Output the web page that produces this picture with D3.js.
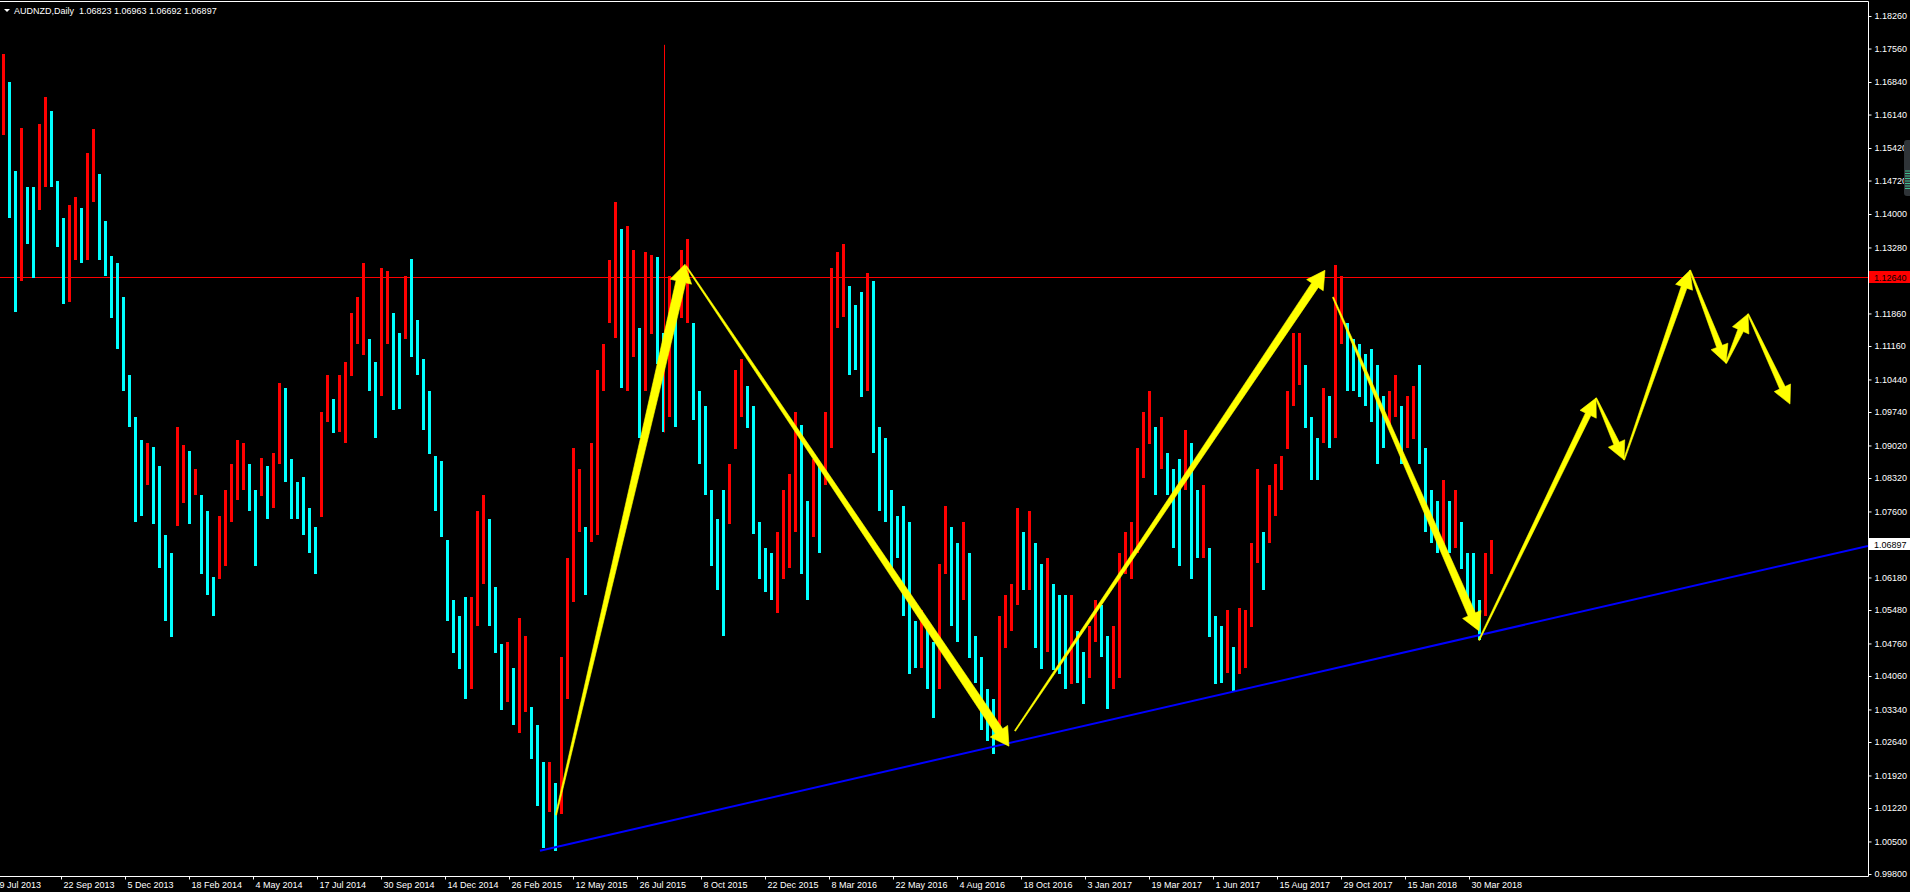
<!DOCTYPE html>
<html><head><meta charset="utf-8">
<script src="https://cdn.jsdelivr.net/npm/d3@7"></script>
<style>
html,body{margin:0;padding:0;background:#000;overflow:hidden}
text{font-family:"Liberation Sans",Arial,sans-serif;font-size:9px;fill:#fff}
</style>
</head><body>
<svg id="chart" width="1910" height="892"></svg>
<script>
// ---------- data ----------
const symbolTitle = "AUDNZD,Daily";
const lastQuote = ["1.06823", "1.06963", "1.06692", "1.06897"];

// weekly high / low, one entry per 6 daily bars, starting at bar 0 (9 Jul 2013)
const weekHigh = [
1.1745,1.1683,1.1492,1.1586,1.1458,1.1458,1.1593,1.1652,1.1622,1.1470,
1.1391,1.1419,1.1436,1.1413,1.1532,1.1582,1.1487,1.1385,1.1310,1.1295,
1.1222,1.1053,1.0963,1.0913,1.0907,1.0899,1.0857,1.0710,1.0671,1.0941,
1.0902,1.0890,1.0851,1.0795,1.0761,1.0620,1.0750,1.0806,1.0862,1.0913,
1.0907,1.0862,1.0806,1.0876,1.0857,1.0885,1.1037,1.1025,1.0873,1.0823,
1.0834,1.0767,1.0727,1.0975,1.1053,1.1003,1.1053,1.1082,1.1188,1.1222,
1.1295,1.1132,1.1082,1.1284,1.1278,1.1188,1.1143,1.1267,1.1304,1.1172,
1.1087,1.1020,1.0879,1.0868,1.0699,1.0570,1.0536,1.0575,1.0575,1.0761,
1.0795,1.0744,1.0598,1.0474,1.0480,1.0423,1.0530,1.0491,1.0339,1.0300,
1.0221,1.0221,1.0176,1.0446,1.0660,1.0896,1.0851,1.0727,1.0907,1.1065,
1.1121,1.1301,1.1425,1.1368,1.1374,1.1323,1.1155,1.1318,1.1312,1.1307,
1.1143,1.1267,1.1211,1.1323,1.1346,1.1166,1.1020,1.0986,1.0806,1.0744,
1.0806,1.0862,1.1065,1.1087,1.1031,1.0986,1.0738,1.0682,1.0671,1.0716,
1.0806,1.0840,1.0975,1.0947,1.0783,1.0873,1.0862,1.0975,1.1284,1.1318,
1.1335,1.1245,1.1205,1.1233,1.1273,1.1256,1.0941,1.0918,1.0806,1.0750,
1.0772,1.0738,1.0525,1.0547,1.0513,1.0480,1.0648,1.0772,1.0727,1.0693,
1.0738,1.0671,1.0491,1.0446,1.0378,1.0356,1.0536,1.0581,1.0603,1.0767,
1.0716,1.0761,1.0693,1.0648,1.0660,1.0603,1.0581,1.0581,1.0581,1.0502,
1.0457,1.0513,1.0570,1.0558,1.0491,1.0513,1.0671,1.0716,1.0738,1.0896,
1.0975,1.1020,1.0941,1.0963,1.0885,1.0851,1.0873,1.0935,1.0907,1.0806,
1.0817,1.0682,1.0536,1.0513,1.0547,1.0468,1.0553,1.0547,1.0693,1.0851,
1.0716,1.0817,1.0862,1.0879,1.1020,1.1143,1.1143,1.1076,1.0963,1.0918,
1.1025,1.1008,1.1290,1.1267,1.1166,1.1132,1.1121,1.1098,1.1110,1.1076,
1.1008,1.1020,1.1053,1.0986,1.1008,1.1031,1.1076,1.0896,1.0806,1.0783,
1.0828,1.0783,1.0806,1.0738,1.0671,1.0671,1.0570,1.0671,1.0699];

const weekLow = [
1.1571,1.1391,1.1188,1.1256,1.1335,1.1262,1.1408,1.1458,1.1458,1.1329,
1.1205,1.1211,1.1301,1.1295,1.1301,1.1425,1.1301,1.1267,1.1177,1.1110,
1.1020,1.0941,1.0738,1.0750,1.0817,1.0733,1.0637,1.0525,1.0491,1.0727,
1.0778,1.0733,1.0795,1.0626,1.0581,1.0536,1.0615,1.0643,1.0738,1.0783,
1.0806,1.0761,1.0643,1.0795,1.0744,1.0767,1.0862,1.0823,1.0744,1.0744,
1.0710,1.0671,1.0626,1.0750,1.0952,1.0930,1.0930,1.0907,1.1053,1.1121,
1.1098,1.1020,1.0918,1.1008,1.1121,1.0980,1.0980,1.1132,1.1093,1.1053,
1.0935,1.0885,1.0761,1.0705,1.0525,1.0457,1.0423,1.0356,1.0378,1.0513,
1.0603,1.0513,1.0457,1.0333,1.0350,1.0300,1.0283,1.0328,1.0227,1.0125,
1.0035,1.0114,1.0030,1.0108,1.0356,1.0564,1.0716,1.0581,1.0693,1.0710,
1.1020,1.1166,1.1132,1.1025,1.1020,1.1093,1.0918,1.1020,1.1143,1.1076,
1.0930,1.0963,1.0941,1.1177,1.1166,1.0958,1.0862,1.0795,1.0643,1.0592,
1.0491,1.0733,1.0896,1.0963,1.0941,1.0710,1.0615,1.0587,1.0570,1.0542,
1.0615,1.0637,1.0716,1.0626,1.0570,1.0705,1.0671,1.0817,1.0896,1.1155,
1.1177,1.1053,1.1065,1.1008,1.1020,1.0885,1.0761,1.0738,1.0637,1.0660,
1.0536,1.0412,1.0423,1.0423,1.0378,1.0317,1.0378,1.0626,1.0513,1.0480,
1.0570,1.0446,1.0390,1.0288,1.0266,1.0238,1.0288,1.0468,1.0502,1.0558,
1.0592,1.0592,1.0468,1.0423,1.0457,1.0418,1.0412,1.0378,1.0390,1.0390,
1.0345,1.0401,1.0480,1.0446,1.0333,1.0378,1.0401,1.0626,1.0615,1.0671,
1.0834,1.0907,1.0795,1.0851,1.0795,1.0682,1.0643,1.0806,1.0615,1.0660,
1.0660,1.0491,1.0390,1.0390,1.0412,1.0373,1.0412,1.0423,1.0513,1.0648,
1.0592,1.0693,1.0750,1.0806,1.0896,1.0986,1.1031,1.0941,1.0828,1.0828,
1.0907,1.0896,1.0918,1.1121,1.1020,1.1020,1.1008,1.0986,1.0952,1.0862,
1.0896,1.0941,1.0963,1.0862,1.0896,1.0918,1.0862,1.0716,1.0693,1.0671,
1.0682,1.0671,1.0682,1.0637,1.0558,1.0525,1.0485,1.0536,1.0626];

// single bad-tick bar (Aug 2015)
const spikeBar = {bar: 667, high: 1.1764, low: 1.0930};

// right price scale
const priceTicks = [1.18260,1.17560,1.16840,1.16140,1.15420,1.14720,1.14000,1.13280,1.12580,
  1.11860,1.11160,1.10440,1.09740,1.09020,1.08320,1.07600,1.06900,1.06180,1.05480,1.04760,
  1.04060,1.03340,1.02640,1.01920,1.01220,1.00500,0.99800];
const priceMin = 0.99800, priceMax = 1.18260;

// time labels, one every 64 daily bars
const dateLabels = ["9 Jul 2013","22 Sep 2013","5 Dec 2013","18 Feb 2014","4 May 2014","17 Jul 2014",
  "30 Sep 2014","14 Dec 2014","26 Feb 2015","12 May 2015","26 Jul 2015","8 Oct 2015","22 Dec 2015",
  "8 Mar 2016","22 May 2016","4 Aug 2016","18 Oct 2016","3 Jan 2017","19 Mar 2017","1 Jun 2017",
  "15 Aug 2017","29 Oct 2017","15 Jan 2018","30 Mar 2018"];
const labelStep = 64;

// horizontal resistance and current price
const levelPrice = 1.12640;
const lastPrice = 1.06897;

// blue support trend line [bar, price]
const trendLine = [[543, 1.0030], [1871, 1.0686]];

// yellow hand-drawn arrows: [tailBar, tailPrice, tipBar, tipPrice, shaftWidth]
const arrows = [
  [559, 1.0107, 688, 1.1292, 10],
  [689, 1.1288, 1012, 1.0255, 9],
  [1018, 1.0288, 1328, 1.1279, 8],
  [1336, 1.1221, 1482, 1.0503, 8],
  [1482, 1.0483, 1599, 1.1004, 6],
  [1599, 1.1004, 1627, 1.0871, 6],
  [1627, 1.0871, 1693, 1.1279, 6],
  [1693, 1.1279, 1729, 1.1079, 6],
  [1729, 1.1079, 1751, 1.1185, 6],
  [1751, 1.1185, 1793, 1.0991, 6]
];

// ---------- drawing ----------
const W = 1910, H = 892;
const plotRight = 1868, plotTop = 2, plotBottom = 876;
const svg = d3.select("#chart");
svg.append("rect").attr("width", W).attr("height", H).attr("fill", "#000");

const x = d3.scaleLinear().domain([0, 1871]).range([-3, plotRight]);
const y = d3.scaleLinear().domain([priceMin, priceMax]).range([874, 16]);

svg.append("clipPath").attr("id", "plot").append("rect")
  .attr("x", 0).attr("y", plotTop).attr("width", plotRight).attr("height", plotBottom - plotTop);
const g = svg.append("g").attr("clip-path", "url(#plot)");

// horizontal level
g.append("line").attr("x1", 0).attr("x2", plotRight)
  .attr("y1", Math.round(y(levelPrice)) + 0.5).attr("y2", Math.round(y(levelPrice)) + 0.5)
  .attr("stroke", "#ff0000").attr("stroke-width", 1);

// weekly bars
const weeks = weekHigh.map((h, i) => ({i, h, l: weekLow[i]}));
g.append("g").selectAll("rect").data(weeks).enter().append("rect")
  .attr("x", d => Math.round(x(d.i * 6 + 6)) - 1)
  .attr("width", 3)
  .attr("y", d => Math.round(y(d.h)))
  .attr("height", d => Math.max(1, Math.round(y(d.l) - y(d.h))))
  .attr("fill", d => {
    if (d.i === 0) return "#ff0000";
    const prev = (weekHigh[d.i - 1] + weekLow[d.i - 1]) / 2;
    return (d.h + d.l) / 2 >= prev ? "#ff0000" : "#00ffff";
  });

// spike bar
g.append("line").attr("x1", x(spikeBar.bar) + 0.5).attr("x2", x(spikeBar.bar) + 0.5)
  .attr("y1", y(spikeBar.high)).attr("y2", y(spikeBar.low))
  .attr("stroke", "#ff0000").attr("stroke-width", 1);

// blue trend line
g.append("line")
  .attr("x1", x(trendLine[0][0])).attr("y1", y(trendLine[0][1]))
  .attr("x2", x(trendLine[1][0])).attr("y2", y(trendLine[1][1]))
  .attr("stroke", "#0000ff").attr("stroke-width", 2);

// yellow arrows
function arrowPath(a) {
  const tx = x(a[0]), ty = y(a[1]), px = x(a[2]), py = y(a[3]), w = a[4];
  const dx = px - tx, dy = py - ty, len = Math.hypot(dx, dy);
  const ux = dx / len, uy = dy / len, nx = -uy, ny = ux;
  const hl = Math.min(18, len * 0.35), hw = w * 0.5 + 6;
  const bx = px - ux * hl, by = py - uy * hl;
  const pts = [
    [tx + nx * 0.6, ty + ny * 0.6],
    [bx + nx * w / 2, by + ny * w / 2],
    [bx + nx * hw, by + ny * hw],
    [px, py],
    [bx - nx * hw, by - ny * hw],
    [bx - nx * w / 2, by - ny * w / 2],
    [tx - nx * 0.6, ty - ny * 0.6]
  ];
  return d3.line()(pts) + "Z";
}
g.append("g").selectAll("path").data(arrows).enter().append("path")
  .attr("d", arrowPath).attr("fill", "#ffff00").attr("stroke", "#ffff00").attr("stroke-width", 0.6);

// frame
svg.append("line").attr("x1", 0).attr("x2", plotRight + 0.5).attr("y1", 1.5).attr("y2", 1.5)
  .attr("stroke", "#fff");

// right axis
const yAxis = d3.axisRight(y).tickValues(priceTicks).tickFormat(d3.format(".5f"))
  .tickSize(3).tickSizeOuter(0);
const ya = svg.append("g").attr("transform", `translate(${plotRight + 0.5},0)`).call(yAxis);
ya.select(".domain").attr("stroke", "#fff").attr("d", `M0,1.5V${plotBottom + 0.5}`);
ya.selectAll(".tick line").attr("stroke", "#fff");
ya.selectAll(".tick text").attr("fill", "#fff").attr("x", 6)
  .style("font-family", '"Liberation Sans",Arial,sans-serif').style("font-size", "9px");

// bottom axis
const labelIdx = dateLabels.map((d, i) => i * labelStep);
const xAxis = d3.axisBottom(x).tickValues(labelIdx).tickFormat((d, i) => dateLabels[i])
  .tickSize(3).tickSizeOuter(0);
const xa = svg.append("g").attr("transform", `translate(0,${plotBottom + 0.5})`).call(xAxis);
xa.select(".domain").attr("stroke", "#fff").attr("d", `M0,0H${plotRight + 0.5}`);
xa.selectAll(".tick line").attr("stroke", "#fff");
xa.selectAll(".tick text").attr("fill", "#fff").attr("text-anchor", "start").attr("x", 2).attr("y", 5)
  .style("font-family", '"Liberation Sans",Arial,sans-serif').style("font-size", "9px");

// price boxes
function priceBox(p, fill) {
  const yy = Math.round(y(p));
  svg.append("rect").attr("x", plotRight + 1).attr("y", yy - 6).attr("width", W - plotRight - 1)
    .attr("height", 12).attr("fill", fill);
  svg.append("text").attr("x", plotRight + 6).attr("y", yy + 3.5).style("fill", "#000")
    .text(d3.format(".5f")(p));
}
priceBox(levelPrice, "#ff0000");
priceBox(lastPrice, "#ffffff");

// header
svg.append("path").attr("d", "M4,9L10,9L7,12Z").attr("fill", "#fff");
svg.append("text").attr("x", 14).attr("y", 14).attr("xml:space", "preserve")
  .style("white-space", "pre")
  .text(symbolTitle + "  " + lastQuote.join(" "));

// small scroll handle at right edge
svg.append("rect").attr("x", 1904).attr("y", 140).attr("width", 10).attr("height", 56)
  .attr("rx", 3).attr("fill", "#2f3438");
svg.append("g").selectAll("line").data(d3.range(8)).enter().append("line")
  .attr("x1", 1905).attr("x2", 1910).attr("y1", d => 171 + d * 2.5).attr("y2", d => 171 + d * 2.5)
  .attr("stroke", "#3fbf8f").attr("stroke-width", 1);
</script>
</body></html>
